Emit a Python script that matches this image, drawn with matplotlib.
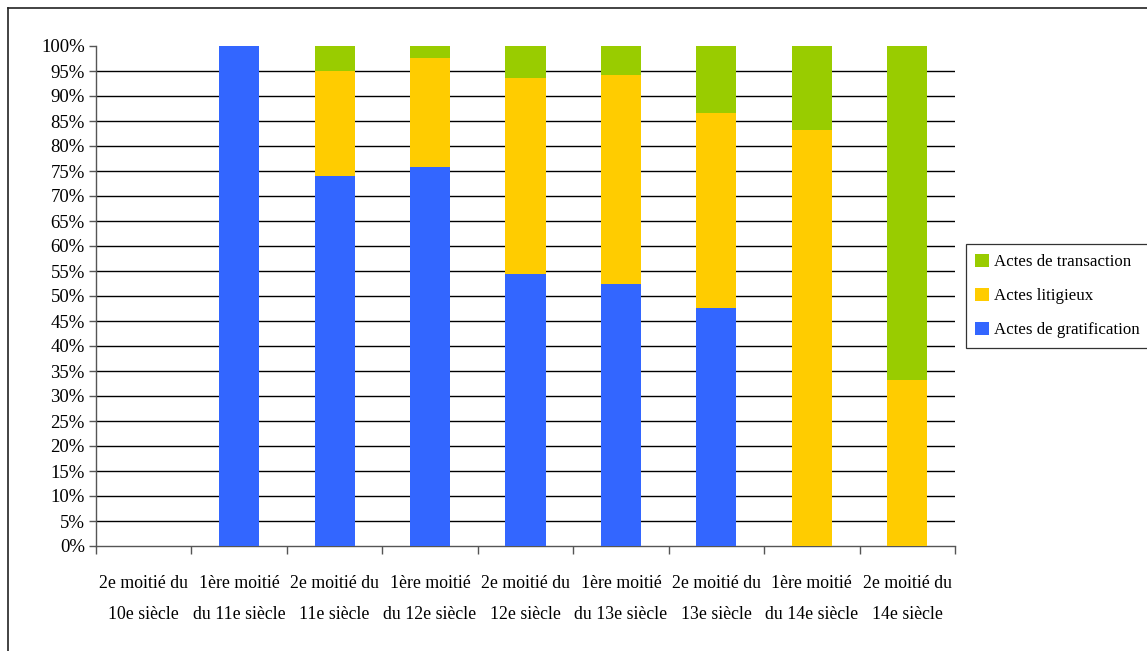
import matplotlib
matplotlib.use("Agg")
import matplotlib.pyplot as plt
import numpy as np
from matplotlib.lines import Line2D

plt.rcParams['font.family'] = ['Liberation Serif', 'DejaVu Serif']

categories = ["2e moitié du\n10e siècle", "1ère moitié\ndu 11e siècle",
              "2e moitié du\n11e siècle", "1ère moitié\ndu 12e siècle",
              "2e moitié du\n12e siècle", "1ère moitié\ndu 13e siècle",
              "2e moitié du\n13e siècle", "1ère moitié\ndu 14e siècle",
              "2e moitié du\n14e siècle"]
gratification = [0, 100, 74.0, 75.8, 54.5, 52.5, 47.6, 0, 0]
litigieux = [0, 0, 21.0, 21.8, 39.1, 41.7, 39.0, 83.3, 33.3]
transaction = [0, 0, 5.0, 2.4, 6.4, 5.8, 13.4, 16.7, 66.7]

fig = plt.figure(figsize=(11.47, 6.51), dpi=100)
ax = fig.add_axes([96 / 1147, 1 - 546 / 651, (955 - 96) / 1147, 500 / 651])

x = np.arange(len(categories))
w = 0.42
b1 = ax.bar(x, gratification, w, color='#3366FF', linewidth=0,
            label='Actes de gratification', zorder=3)
b2 = ax.bar(x, litigieux, w, bottom=gratification, color='#FFCC00',
            linewidth=0, label='Actes litigieux', zorder=3)
bottom3 = np.array(gratification) + np.array(litigieux)
b3 = ax.bar(x, transaction, w, bottom=bottom3, color='#99CC00',
            linewidth=0, label='Actes de transaction', zorder=3)

ax.set_xlim(-0.5, len(categories) - 0.5)
ax.set_ylim(0, 100)
ax.set_yticks(np.arange(0, 101, 5))
ax.set_yticklabels([f"{v}%" for v in range(0, 101, 5)], fontsize=13.5)
ax.yaxis.grid(True, color='black', linewidth=1.0, zorder=0)
ax.set_axisbelow(True)
ax.yaxis.get_gridlines()[-1].set_visible(False)
ax.yaxis.get_gridlines()[0].set_visible(False)

ax.set_xticks(x)
ax.set_xticklabels(categories, fontsize=12.8, linespacing=2.05)
ax.set_xticks(np.arange(-0.5, len(categories)), minor=True)
ax.tick_params(axis='x', which='major', length=0, pad=21)
ax.tick_params(axis='x', which='minor', length=6, color='#555555', width=1)
ax.tick_params(axis='y', length=5, color='#555555', width=1, pad=3)

for s in ['top', 'right']:
    ax.spines[s].set_visible(False)
for s in ['left', 'bottom']:
    ax.spines[s].set_color('#555555')
    ax.spines[s].set_linewidth(1)

handles = [b3, b2, b1]
leg = fig.legend(handles, [h.get_label() for h in handles], loc='center left',
                 bbox_to_anchor=(966 / 1147, 1 - 296 / 651), fontsize=12.2,
                 frameon=True, fancybox=False, edgecolor='black', handlelength=0.8,
                 handleheight=0.8, handletextpad=0.3, labelspacing=1.05,
                 borderpad=0.55, borderaxespad=0)
leg.get_frame().set_linewidth(0.9)

# outer chart frame
fig.add_artist(Line2D([8 / 1147, 8 / 1147], [0, 1 - 8 / 651], transform=fig.transFigure,
                      color='#222222', linewidth=1.2))
fig.add_artist(Line2D([8 / 1147, 1], [1 - 8 / 651, 1 - 8 / 651], transform=fig.transFigure,
                      color='#222222', linewidth=1.2))

fig.savefig("out.png", dpi=100)
